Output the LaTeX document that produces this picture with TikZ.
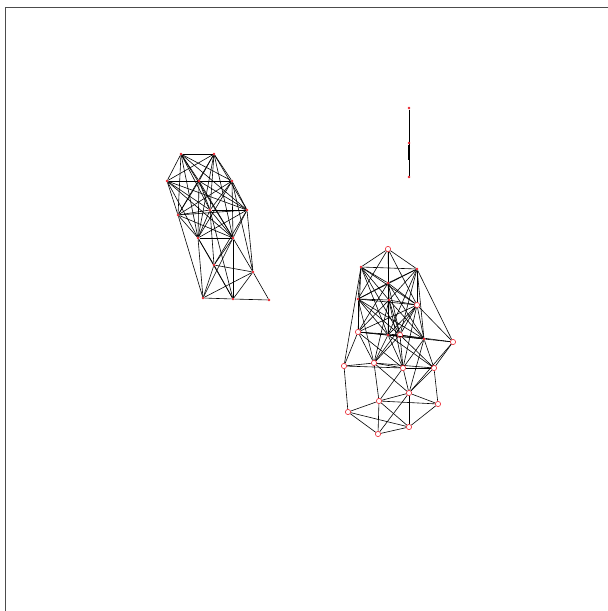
\documentclass[tikz,border=0pt]{standalone}
\usepackage{tikz}
\usetikzlibrary{backgrounds}
\definecolor{vertexred}{HTML}{E8202A}

\begin{document}
\begin{tikzpicture}[
  x=1pt, y=-1pt,
  vtx/.style={circle, fill=vertexred, inner sep=0pt, minimum size=2.6pt},
  vtxring/.style={circle, draw=vertexred, line width=0.6pt, inner sep=0pt, minimum size=5.2pt},
  edge/.style={draw=black, line width=0.6pt}
]
\useasboundingbox (0,0) rectangle (608,611);
% frame
\draw[line width=0.8pt, black!70] (5,611) -- (5,7) -- (608,7);

% left cluster
\node[vtx] (l1) at (181,154) {};
\node[vtx] (l2) at (214,154) {};
\node[vtx] (l3) at (167,181) {};
\node[vtx] (l4) at (199,181) {};
\node[vtx] (l5) at (232,181) {};
\node[vtx] (l6) at (178,215) {};
\node[vtx] (l7) at (210,210) {};
\node[vtx] (l8) at (247,210) {};
\node[vtx] (l9) at (198,238) {};
\node[vtx] (l10) at (233,238) {};
\node[vtx] (l11) at (214,265) {};
\node[vtx] (l12) at (253,272) {};
\node[vtx] (l13) at (203,298) {};
\node[vtx] (l14) at (233,299) {};
\node[vtx] (l15) at (269,300) {};

% top pair
\node[vtx] (t1) at (409,108) {};
\node[vtx] (t2) at (409,143) {};
\node[vtx] (t3) at (409,177) {};
\coordinate (tmid) at (409,160);

% right cluster
\node[vtxring] (r1) at (388,249) {};
\node[vtx] (r2) at (361,267) {};
\node[vtx] (r3) at (417,269) {};
\node[vtx] (r4) at (388,283) {};
\node[vtx] (r5) at (358,299) {};
\node[vtx] (r6) at (389,300) {};
\node[vtxring] (r7) at (417,305) {};
\node[vtxring] (r8) at (358,332) {};
\node[vtx] (r9) at (388,335) {};
\node[vtxring] (r10) at (400,335) {};
\node[vtx] (r11) at (424,339) {};
\node[vtxring] (r12) at (453,342) {};
\node[vtxring] (r13) at (344,366) {};
\node[vtxring] (r14) at (374,363) {};
\node[vtxring] (r15) at (403,368) {};
\node[vtxring] (r16) at (434,368) {};
\node[vtxring] (r17) at (409,393) {};
\node[vtxring] (r18) at (379,401) {};
\node[vtxring] (r19) at (438,404) {};
\node[vtxring] (r20) at (348,412) {};
\node[vtxring] (r21) at (409,427) {};
\node[vtxring] (r22) at (378,434) {};

\begin{scope}[on background layer]
% dense upper parts
\foreach \i [evaluate=\i as \k using int(\i+1)] in {1,...,9}
  \foreach \j in {\k,...,10}
    \draw[edge] (l\i) -- (l\j);
\foreach \i [evaluate=\i as \k using int(\i+1)] in {1,...,6}
  \foreach \j in {\k,...,7}
    \draw[edge] (r\i) -- (r\j);

\foreach \a/\b in {l6/l13, l7/l11, l7/l14, l8/l11, l8/l12, l5/l12,
  l9/l11, l9/l13, l9/l14, l10/l11, l10/l12, l10/l13, l10/l14,
  l11/l12, l11/l13, l11/l14, l12/l13, l12/l14, l12/l15,
  l13/l14, l14/l15}
  \draw[edge] (\a) -- (\b);

\foreach \a/\b in {t1/t2, t2/t3, t1/t3}
  \draw[edge] (\a) -- (\b);
\draw[line width=1.4pt] (t2) -- (tmid);

\foreach \a/\b in {r2/r8, r2/r9, r2/r10, r2/r13, r3/r9, r3/r10, r3/r11, r3/r12,
  r4/r8, r4/r9, r4/r10, r4/r11, r5/r8, r5/r9, r5/r10, r5/r11, r5/r14,
  r6/r8, r6/r9, r6/r10, r6/r11, r6/r14, r6/r15,
  r7/r8, r7/r9, r7/r10, r7/r11, r7/r12, r7/r14, r7/r15,
  r8/r9, r8/r10, r8/r11, r8/r13, r8/r14, r8/r15,
  r9/r10, r9/r11, r9/r14, r9/r15, r9/r16,
  r10/r11, r10/r12, r10/r14, r10/r15, r10/r16,
  r11/r12, r11/r15, r11/r16, r11/r17, r12/r16, r12/r17,
  r13/r14, r13/r15, r13/r20,
  r14/r15, r14/r16, r14/r17, r14/r18,
  r15/r16, r15/r17, r15/r18, r16/r17, r16/r19,
  r17/r18, r17/r19, r17/r21, r17/r22,
  r18/r19, r18/r20, r18/r21, r18/r22,
  r19/r21, r20/r21, r20/r22, r21/r22}
  \draw[edge] (\a) -- (\b);
\end{scope}
\end{tikzpicture}
\end{document}
